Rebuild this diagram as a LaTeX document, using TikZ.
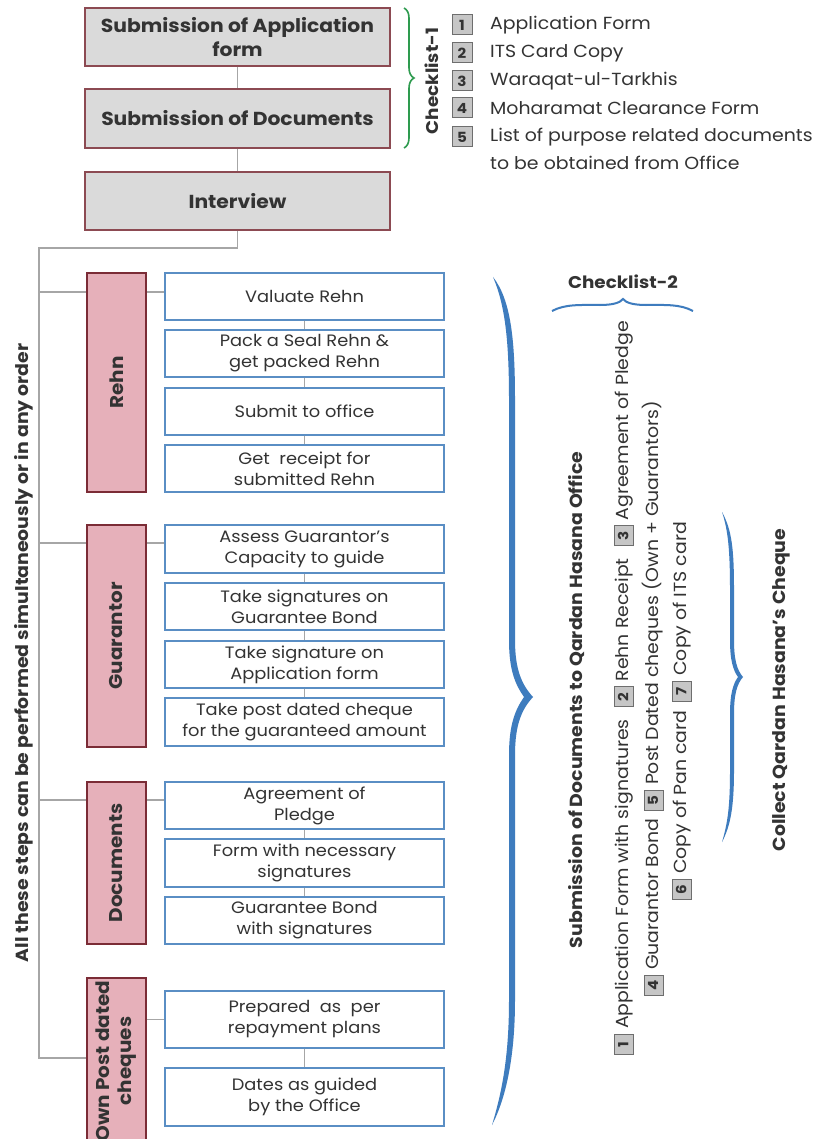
\documentclass[tikz,border=0pt]{standalone}
\usepackage{fontspec}
\setmainfont{Poppins}[FakeStretch=1.08]
\usetikzlibrary{decorations.pathreplacing}
\definecolor{txt}{HTML}{333333}
\definecolor{grayfill}{HTML}{DADADA}
\definecolor{topbord}{HTML}{8C4A52}
\definecolor{pinkfill}{HTML}{E6B0BA}
\definecolor{pinkbord}{HTML}{7B2C36}
\definecolor{bluebord}{HTML}{5A8EC4}
\definecolor{linegray}{HTML}{A6A6A6}
\definecolor{greenbr}{HTML}{2E9B4F}
\definecolor{bluebr}{HTML}{3E7CBE}
\definecolor{numfill}{HTML}{C6C6C6}
\definecolor{numbord}{HTML}{6E6E6E}
\newcommand{\nb}[1]{{\setlength{\fboxsep}{2.5pt}\setlength{\fboxrule}{0.9pt}\fcolorbox{numbord}{numfill}{\makebox[14pt][c]{\rule[-2.5pt]{0pt}{13.5pt}\bfseries\fontsize{14}{14}\selectfont #1}}}}
\tikzset{
  topbox/.style={draw=topbord, fill=grayfill, line width=1.5pt, minimum width=305pt, inner sep=0pt,
    font=\bfseries\fontsize{18.8}{24}\selectfont, align=center, text=txt},
  pinkbox/.style={draw=pinkbord, fill=pinkfill, line width=2.5pt, minimum width=59pt, inner sep=0pt,
    font=\bfseries\fontsize{18.5}{22}\selectfont, align=center, text=txt},
  bluebox/.style={draw=bluebord, fill=white, line width=1.3pt, minimum width=279pt, inner sep=0pt,
    font=\fontsize{16.5}{21}\selectfont, align=center, text=txt},
  conn/.style={draw=linegray, line width=1.5pt},
  numbox/.style={draw=numbord, fill=numfill, line width=1pt, minimum size=20pt, inner sep=0pt,
    font=\bfseries\fontsize{14}{14}\selectfont, text=txt},
  cl1/.style={anchor=west, inner sep=0pt, font=\fontsize{17.5}{20}\selectfont, text=txt},
  rottitle/.style={rotate=90, inner sep=0pt, font=\bfseries\fontsize{17.5}{20}\selectfont, text=txt},
  rotlist/.style={rotate=90, anchor=west, inner sep=0pt, font=\fontsize{17.5}{20}\selectfont, text=txt},
}
\begin{document}
\begin{tikzpicture}[x=1pt, y=-1pt]
\useasboundingbox (0,0) rectangle (825,1139);
\fill[white] (0,0) rectangle (825,1139);
% top boxes
\node[topbox, minimum height=58pt] (app) at (237.5,37) {Submission of Application\\form};
\node[topbox, minimum height=59pt] (docs) at (237.5,118.5) {Submission of Documents};
\node[topbox, minimum height=58pt] (intv) at (237.5,201) {Interview};
\draw[conn] (app) -- (docs);
\draw[conn] (docs) -- (intv);
% checklist 1
\draw[greenbr, line width=1.6pt, decorate, decoration={brace, amplitude=10pt, aspect=0.5}] (404,8) -- (404,148);
\node[rottitle, font=\bfseries\fontsize{17}{20}\selectfont] (cl1t) at (432,81) {Checklist-1};
\node[numbox] (n1) at (462,25) {1};
\node[numbox] (n2) at (462,53) {2};
\node[numbox] (n3) at (462,81) {3};
\node[numbox] (n4) at (462,108) {4};
\node[numbox] (n5) at (462,137) {5};
\node[cl1] (t1) at (490,25) {Application Form};
\node[cl1] (t2) at (490,53) {ITS Card Copy};
\node[cl1] (t3) at (490,81) {Waraqat-ul-Tarkhis};
\node[cl1] (t4) at (490,108) {Moharamat Clearance Form};
\node[cl1] (t5) at (490,137) {List of purpose related documents};
\node[cl1] (t6) at (490,163) {to be obtained from Office};
% pink boxes
\node[pinkbox, minimum height=219pt] (rehn) at (116.5,382.5) {\rotatebox{90}{Rehn}};
\node[pinkbox, minimum height=222pt] (guar) at (116.5,636) {\rotatebox{90}{Guarantor}};
\node[pinkbox, minimum height=162pt] (docu) at (116.5,863) {\rotatebox{90}{Documents}};
\node[pinkbox, minimum height=166pt] (own) at (116.5,1061) {\rotatebox{90}{\begin{tabular}{@{}c@{}}Own Post dated\\cheques\end{tabular}}};
% blue boxes
\node[bluebox, minimum height=47pt] (v1) at (304.5,296.5) {Valuate Rehn};
\node[bluebox, minimum height=47pt] (v2) at (304.5,353.5) {Pack a Seal Rehn \&\\get packed Rehn};
\node[bluebox, minimum height=47pt] (v3) at (304.5,411.5) {Submit to office};
\node[bluebox, minimum height=47pt] (v4) at (304.5,468.5) {Get~ receipt for\\submitted Rehn};
\node[bluebox, minimum height=48pt] (g1) at (304.5,549) {Assess Guarantor’s\\Capacity to guide};
\node[bluebox, minimum height=47pt] (g2) at (304.5,606.5) {Take signatures on\\Guarantee Bond};
\node[bluebox, minimum height=47pt] (g3) at (304.5,664.5) {Take signature on\\Application form};
\node[bluebox, minimum height=48pt] (g4) at (304.5,722) {Take post dated cheque\\for the guaranteed amount};
\node[bluebox, minimum height=47pt] (d1) at (304.5,805.5) {Agreement of\\Pledge};
\node[bluebox, minimum height=48pt] (d2) at (304.5,863) {Form with necessary\\signatures};
\node[bluebox, minimum height=47pt] (d3) at (304.5,920.5) {Guarantee Bond\\with signatures};
\node[bluebox, minimum height=57pt] (o1) at (304.5,1019.5) {Prepared~ as~ per\\repayment plans};
\node[bluebox, minimum height=58pt] (o2) at (304.5,1097) {Dates as guided\\by the Office};
\draw[conn] (v1) -- (v2); \draw[conn] (v2) -- (v3); \draw[conn] (v3) -- (v4);
\draw[conn] (g1) -- (g2); \draw[conn] (g2) -- (g3); \draw[conn] (g3) -- (g4);
\draw[conn] (d1) -- (d2); \draw[conn] (d2) -- (d3);
\draw[conn] (o1) -- (o2);
% tree
\coordinate (split) at (39,248);
\coordinate (trunkend) at (39,1058);
\coordinate (b1) at (39,292);
\coordinate (b2) at (39,543);
\coordinate (b3) at (39,800);
\draw[conn] (intv.south) |- (split) -- (trunkend) -- (trunkend -| own.west);
\draw[conn] (b1) -- (b1 -| rehn.west);
\draw[conn] (b2) -- (b2 -| guar.west);
\draw[conn] (b3) -- (b3 -| docu.west);
\draw[conn] (rehn.east |- b1) -- (b1 -| v1.west);
\draw[conn] (guar.east |- b2) -- (b2 -| g1.west);
\draw[conn] (docu.east |- b3) -- (b3 -| d1.west);
\draw[conn] (own.east |- o1.west) -- (o1.west);
\node[rottitle] (alltxt) at (24,653) {All these steps can be performed simultaneously or in any order};
% big brace
\fill[bluebr] (493,277) .. controls (511,300) and (515,340) .. (515,400) -- (515,640)
  .. controls (515,670) and (522,685) .. (533,697) .. controls (522,709) and (515,724) .. (515,755)
  -- (515,1000) .. controls (515,1060) and (505,1100) .. (492,1125)
  .. controls (501,1095) and (509,1060) .. (509,1000) -- (509,755)
  .. controls (509,725) and (515,710) .. (524,697) .. controls (515,684) and (509,670) .. (509,640)
  -- (509,400) .. controls (509,340) and (505,305) .. (493,277) -- cycle;
\node[rottitle] (subtxt) at (577,700) {Submission of Documents to Qardan Hasana Office};
% checklist 2
\node[inner sep=0pt, font=\bfseries\fontsize{17}{20}\selectfont, text=txt] (cl2t) at (623,282) {Checklist-2};
\draw[bluebr, line width=2pt] (552,311) .. controls (565,304) and (580,305) .. (600,305)
  .. controls (612,305) and (620,303) .. (623,299) .. controls (626,303) and (634,305) .. (646,305)
  .. controls (666,305) and (680,304) .. (693,311);
\node[rotlist] (c1) at (624,1055) {\nb{1} Application Form with signatures\hspace{12pt}\nb{2} Rehn Receipt\hspace{12pt}\nb{3} Agreement of Pledge};
\node[rotlist] (c2) at (653,996) {\nb{4} Guarantor Bond\hspace{8pt}\nb{5} Post Dated cheques (Own + Guarantors)};
\node[rotlist] (c3) at (682,900) {\nb{6} Copy of Pan card\hspace{9pt}\nb{7} Copy of ITS card};
% middle brace
\fill[bluebr] (722,512) .. controls (732,530) and (734,550) .. (734,590) -- (734,640)
  .. controls (734,660) and (737,670) .. (743,677) .. controls (737,684) and (734,694) .. (734,714)
  -- (734,770) .. controls (734,805) and (731,825) .. (722,842)
  .. controls (728,822) and (730,805) .. (730,770) -- (730,714)
  .. controls (730,694) and (733,684) .. (738,677) .. controls (733,670) and (730,660) .. (730,640)
  -- (730,590) .. controls (730,550) and (728,530) .. (722,512) -- cycle;
\node[rottitle] (coltxt) at (781,690) {Collect Qardan Hasana’s Cheque};
\end{tikzpicture}
\end{document}
